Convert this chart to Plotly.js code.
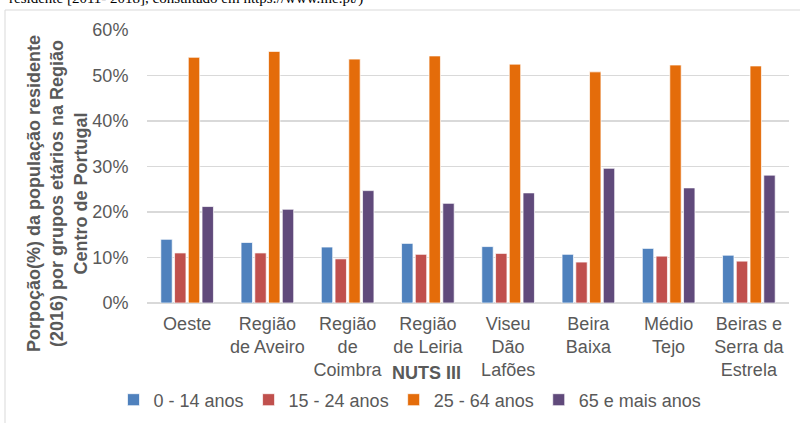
<!DOCTYPE html>
<html>
<head>
<meta charset="utf-8">
<script src="https://cdn.plot.ly/plotly-3.0.1.min.js"></script>
<style>html,body{margin:0;padding:0;background:#fff;}#chart{width:800px;height:423px;}</style>
</head>
<body>
<div id="chart"></div>
<script>
const categories = ["Oeste", "Região<br>de Aveiro", "Região<br>de<br>Coimbra", "Região<br>de Leiria", "Viseu<br>Dão<br>Lafões", "Beira<br>Baixa", "Médio<br>Tejo", "Beiras e<br>Serra da<br>Estrela"];
const seriesNames = ["0 - 14 anos", "15 - 24 anos", "25 - 64 anos", "65 e mais anos"];
const age0_14 = [0.140, 0.133, 0.123, 0.131, 0.124, 0.107, 0.120, 0.105];
const age15_24 = [0.110, 0.110, 0.097, 0.107, 0.109, 0.090, 0.103, 0.092];
const age25_64 = [0.540, 0.553, 0.536, 0.543, 0.525, 0.508, 0.523, 0.521];
const age65plus = [0.212, 0.206, 0.247, 0.219, 0.242, 0.296, 0.253, 0.281];
const yTickVals = [0, 0.1, 0.2, 0.3, 0.4, 0.5, 0.6];
const yTickText = ["0%", "10%", "20%", "30%", "40%", "50%", "60%"];

const colors = ["#4F81BD", "#C0504D", "#E46C0A", "#604A7B"];
const values = [age0_14, age15_24, age25_64, age65plus];
const font = "Liberation Sans, Arial, sans-serif";
const gray = "#595959";

const traces = values.map((v, i) => ({
  type: "bar",
  name: seriesNames[i],
  x: categories,
  y: v,
  marker: {color: colors[i], line: {color: "rgba(255,255,255,0.7)", width: 1}},
  hoverinfo: "x+y"
}));

// plot area geometry (px) for annotation placement
const W = 800, H = 423, L = 147, R = 11, T = 30, B = 120;
const pw = W - L - R, ph = H - T - B;
const px = x => (x - L) / pw;
const py = y => (H - B - y) / ph;

const layout = {
  width: W, height: H,
  margin: {l: L, r: R, t: T, b: B, pad: 0, autoexpand: false},
  paper_bgcolor: "#fff",
  plot_bgcolor: "#fff",
  barmode: "group",
  bargap: 0.315,
  bargroupgap: 0.17,
  font: {family: font, size: 18, color: gray},
  xaxis: {
    type: "category",
    automargin: false,
    showgrid: false,
    showline: false,
    zeroline: false,
    ticks: "outside",
    ticklen: 4,
    tickcolor: "rgba(0,0,0,0)",
    tickfont: {family: font, size: 18, color: gray},
    fixedrange: true
  },
  yaxis: {
    automargin: false,
    range: [0, 0.6],
    tickvals: yTickVals,
    ticktext: yTickText,
    showgrid: true,
    gridcolor: "#D9D9D9",
    gridwidth: 1.3,
    zeroline: true,
    zerolinecolor: "#D9D9D9",
    zerolinewidth: 1.3,
    showline: false,
    ticks: "outside",
    ticklen: 14,
    tickcolor: "rgba(0,0,0,0)",
    tickfont: {family: font, size: 18, color: gray},
    fixedrange: true
  },
  showlegend: true,
  legend: {
    orientation: "h",
    x: px(410), xanchor: "center",
    y: py(400), yanchor: "middle",
    font: {family: font, size: 18, color: gray},
    itemwidth: 30,
    traceorder: "normal"
  },
  shapes: [{
    type: "rect", xref: "paper", yref: "paper",
    x0: px(5), x1: px(830), y0: py(460), y1: py(10),
    line: {color: "#D9D9D9", width: 1}, fillcolor: "rgba(0,0,0,0)", layer: "below"
  }],
  annotations: [
    {
      text: "Porpoção(%) da população residente<br>(2016) por grupos etários na Região<br>Centro de Portugal",
      xref: "paper", yref: "paper", x: px(57), y: py(194),
      xanchor: "center", yanchor: "middle", textangle: -90, showarrow: false,
      font: {family: font, size: 18, color: gray, weight: "bold"}
    },
    {
      text: "<b>NUTS III</b>",
      xref: "paper", yref: "paper", x: px(426), y: py(373),
      xanchor: "center", yanchor: "middle", showarrow: false,
      font: {family: font, size: 18, color: gray}
    },
    {
      text: "residente [2011- 2018], consultado em https://www.ine.pt/)",
      xref: "paper", yref: "paper", x: px(7), y: py(9),
      xanchor: "left", yanchor: "bottom", showarrow: false,
      font: {family: "Liberation Serif, Times New Roman, serif", size: 15, color: "#000"}
    }
  ]
};

Plotly.newPlot("chart", traces, layout, {displayModeBar: false, staticPlot: true});
</script>
</body>
</html>
